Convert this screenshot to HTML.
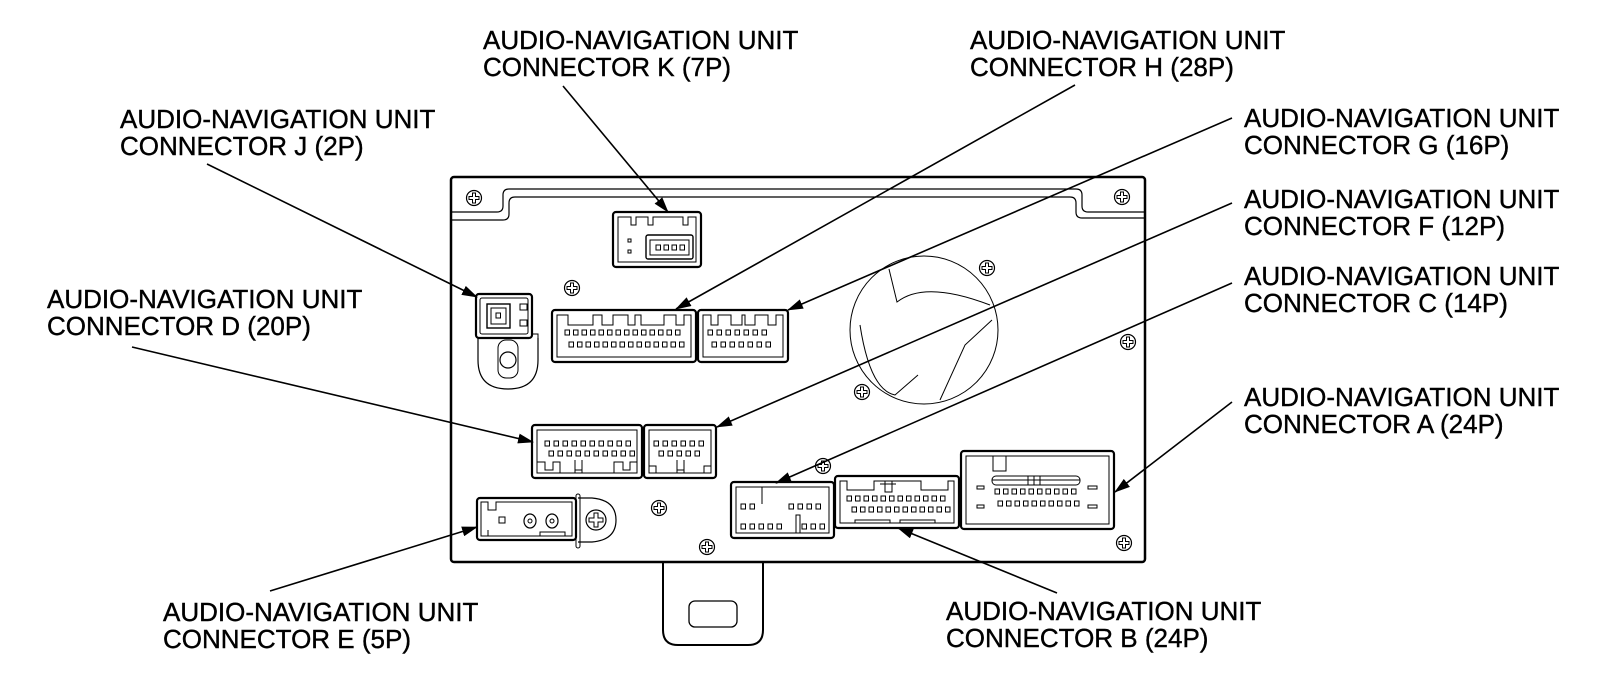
<!DOCTYPE html>
<html><head><meta charset="utf-8"><style>
html,body{margin:0;padding:0;background:#fff;width:1600px;height:674px;overflow:hidden}
svg{display:block}
text{font-family:"Liberation Sans",Arial,sans-serif;font-size:26px;fill:#000;stroke:#000;stroke-width:0.4}
</style></head><body>
<svg width="1600" height="674" viewBox="0 0 1600 674" xmlns="http://www.w3.org/2000/svg">
<defs>
<marker id="ar" markerWidth="16" markerHeight="10" refX="15" refY="5" orient="auto" markerUnits="userSpaceOnUse">
<path d="M0,0 L16,5 L0,10 Z" fill="#000"/></marker>
<g id="scr"><circle r="7.5" fill="#fff" stroke="#000" stroke-width="1.2"/><path d="M-1.5,-5 h3 v3.5 h3.5 v3 h-3.5 v3.5 h-3 v-3.5 h-3.5 v-3 h3.5 z" fill="none" stroke="#000" stroke-width="1"/></g>
<rect id="p" width="4.5" height="5" fill="none" stroke="#000" stroke-width="1"/>
</defs>

<!-- labels -->
<text x="483" y="49">AUDIO-NAVIGATION UNIT</text><text x="483" y="76">CONNECTOR K (7P)</text>
<text x="970" y="49">AUDIO-NAVIGATION UNIT</text><text x="970" y="76">CONNECTOR H (28P)</text>
<text x="120" y="128">AUDIO-NAVIGATION UNIT</text><text x="120" y="155">CONNECTOR J (2P)</text>
<text x="1244" y="127">AUDIO-NAVIGATION UNIT</text><text x="1244" y="154">CONNECTOR G (16P)</text>
<text x="1244" y="208">AUDIO-NAVIGATION UNIT</text><text x="1244" y="235">CONNECTOR F (12P)</text>
<text x="47" y="308">AUDIO-NAVIGATION UNIT</text><text x="47" y="335">CONNECTOR D (20P)</text>
<text x="1244" y="285">AUDIO-NAVIGATION UNIT</text><text x="1244" y="312">CONNECTOR C (14P)</text>
<text x="1244" y="406">AUDIO-NAVIGATION UNIT</text><text x="1244" y="433">CONNECTOR A (24P)</text>
<text x="163" y="621">AUDIO-NAVIGATION UNIT</text><text x="163" y="648">CONNECTOR E (5P)</text>
<text x="946" y="620">AUDIO-NAVIGATION UNIT</text><text x="946" y="647">CONNECTOR B (24P)</text>

<!-- tab -->
<path d="M663,562 V630 Q663,645 678,645 H748 Q763,645 763,630 V562" fill="#fff" stroke="#000" stroke-width="2"/>
<rect x="689" y="601" width="48" height="26" rx="6" fill="none" stroke="#000" stroke-width="1.3"/>

<!-- board -->
<rect x="451" y="177" width="694" height="385" rx="3" fill="#fff" stroke="#000" stroke-width="2.5"/>
<path d="M451,212 H497 Q503,212 503,206 V195 Q503,189 509,189 H1076 Q1082,189 1082,195 V206 Q1082,212 1088,212 H1145" fill="none" stroke="#000" stroke-width="1.2"/>
<path d="M451,220 H503 Q509,220 509,214 V203 Q509,197 515,197 H1070 Q1076,197 1076,203 V212 Q1076,218 1082,218 H1145" fill="none" stroke="#000" stroke-width="1.2"/>

<!-- fan -->
<g fill="none" stroke="#000" stroke-width="1">
<circle cx="924" cy="330" r="74"/>
<path d="M889,269 L897,302 Q925,280 990,305 M860,325 Q870,390 895,395 L918,375 M940,400 L965,345 L992,320"/>
</g>

<!-- screws -->
<use href="#scr" x="474" y="198"/><use href="#scr" x="1122" y="197"/><use href="#scr" x="1128" y="342"/>
<use href="#scr" x="1124" y="543"/><use href="#scr" x="572" y="288"/><use href="#scr" x="987" y="268"/>
<use href="#scr" x="862" y="392"/><use href="#scr" x="823" y="466"/><use href="#scr" x="659" y="508"/>
<use href="#scr" x="707" y="547"/>

<g fill="none" stroke="#000">
<!-- K -->
<rect x="613" y="212" width="88" height="55" rx="3" stroke-width="2.2"/>
<path d="M618,217 V262 H696 V217 H688 V225 H683 V217 H653 V225 H648 V217 H636 V225 H631 V217 Z" stroke-width="1"/>
<rect x="646" y="235" width="47" height="24" rx="2" stroke-width="1.4"/>
<rect x="650" y="240" width="39" height="15" stroke-width="1"/>
<rect x="628" y="239" width="3" height="3" stroke-width="1"/><rect x="628" y="250" width="3" height="3" stroke-width="1"/>

<!-- J -->
<path d="M478,338 V360 Q478,389 508,389 Q538,389 538,360 V338" stroke-width="1.2"/>
<path d="M532,334 H538 V345" stroke-width="1"/>
<rect x="476" y="294" width="56" height="44" rx="3" stroke-width="2.2"/>
<rect x="480" y="298" width="48" height="36" rx="2" stroke-width="1"/>
<rect x="487" y="304" width="23" height="24" stroke-width="1.4"/>
<rect x="491" y="308" width="15" height="16" stroke-width="1"/>
<rect x="520" y="304" width="7" height="6" stroke-width="1"/><rect x="520" y="320" width="7" height="6" stroke-width="1"/>
<circle cx="508" cy="360" r="8" stroke-width="1.2"/>
<rect x="498" y="340" width="20" height="38" rx="8" stroke-width="1"/>

<!-- H -->
<rect x="552" y="310" width="144" height="52" rx="3" stroke-width="2.2"/>
<path d="M557,315 V357 H691 V315 H684 V325 H676 V315 H664 V325 H641 V315 H635 V325 H628 V315 H613 V325 H602 V315 H593 V325 H568 V315 Z" stroke-width="1"/>
<!-- G -->
<rect x="698" y="310" width="90" height="52" rx="3" stroke-width="2.2"/>
<path d="M703,315 V357 H783 V315 H776 V325 H768 V315 H755 V325 H745 V315 H742 V325 H731 V315 H718 V325 H711 V315 Z" stroke-width="1"/>
<!-- D -->
<rect x="532" y="425" width="110" height="53" rx="3" stroke-width="2.2"/>
<path d="M537,430 V473 H637 V430 Z M537,462 H545 V470 H553 V462 H560 V473 M614,473 V462 H623 V470 H630 V462 H637 M575,473 V460 M582,473 V460 M575,470 H582" stroke-width="1"/>
<!-- F -->
<rect x="644" y="425" width="72" height="53" rx="3" stroke-width="2.2"/>
<path d="M649,430 V473 H711 V430 Z M649,466 H656 V473 M704,473 V466 H711 M677,473 V460 M684,473 V460 M677,470 H684" stroke-width="1"/>
<!-- C -->
<rect x="731" y="482" width="103" height="56" rx="3" stroke-width="2.2"/>
<path d="M736,487 V533 H829 V487 Z M762,487 V504 M796,533 V515 H800 V533" stroke-width="1"/>
<!-- B -->
<rect x="835" y="476" width="124" height="52" rx="3" stroke-width="2.2"/>
<path d="M840,481 V523 H954 V481 H948 V490 H921 V481 H896 V481 H874 V490 H847 V481 Z M885,481 V492 H892 V481 M880,484 H896" stroke-width="1"/>
<path d="M855,523 V520 H890 V523 M900,523 V520 H935 V523" stroke-width="1"/>
<!-- A -->
<rect x="961" y="451" width="153" height="78" rx="3" stroke-width="2.2"/>
<rect x="966" y="456" width="143" height="68" stroke-width="1"/>
<rect x="993" y="456" width="13" height="15" stroke-width="1"/>
<rect x="992" y="476" width="88" height="9" rx="4" stroke-width="1"/>
<path d="M992,480 H1080 M1028,476 V485 M1034,476 V485 M1040,476 V485" stroke-width="1"/>
<rect x="977" y="486" width="7" height="3" stroke-width="1"/><rect x="977" y="505" width="7" height="3" stroke-width="1"/>
<rect x="1088" y="486" width="9" height="3" stroke-width="1"/><rect x="1088" y="505" width="9" height="3" stroke-width="1"/>
<!-- E -->
<path d="M578,498 H592 Q616,500 616,520 Q616,540 592,542 H578" stroke-width="1.2"/>
<rect x="576" y="494" width="4" height="54" rx="2" stroke-width="1"/>
<circle cx="596" cy="520" r="10" stroke-width="1.2"/>
<path d="M594,513 h4 v5 h5 v4 h-5 v5 h-4 v-5 h-5 v-4 h5 z" stroke-width="1"/>
<rect x="477" y="498" width="99" height="42" rx="3" stroke-width="2.2"/>
<path d="M481,502 V536 H572 V502 H496 V510 H488 V502 Z M488,536 V530 M540,536 V532 H565 V536" stroke-width="1"/>
<rect x="499" y="517" width="6" height="6" stroke-width="1"/>
<ellipse cx="530" cy="521" rx="6" ry="7" stroke-width="1.2"/><circle cx="530" cy="521" r="2" stroke-width="1"/>
<ellipse cx="552" cy="521" rx="6" ry="7" stroke-width="1.2"/><circle cx="552" cy="521" r="2" stroke-width="1"/>
</g>

<!-- pins -->
<g>
<use href="#p" x="656" y="245"/><use href="#p" x="664" y="245"/><use href="#p" x="672" y="245"/><use href="#p" x="680" y="245"/>
<use href="#p" x="496" y="313"/>
</g>
<g>
<g transform="translate(565,330)"><use href="#p" x="0"/><use href="#p" x="8.5"/><use href="#p" x="17"/><use href="#p" x="25.5"/><use href="#p" x="34"/><use href="#p" x="42.5"/><use href="#p" x="51"/><use href="#p" x="59.5"/><use href="#p" x="68"/><use href="#p" x="76.5"/><use href="#p" x="85"/><use href="#p" x="93.5"/><use href="#p" x="102"/><use href="#p" x="110.5"/></g>
<g transform="translate(569,342)"><use href="#p" x="0"/><use href="#p" x="8.5"/><use href="#p" x="17"/><use href="#p" x="25.5"/><use href="#p" x="34"/><use href="#p" x="42.5"/><use href="#p" x="51"/><use href="#p" x="59.5"/><use href="#p" x="68"/><use href="#p" x="76.5"/><use href="#p" x="85"/><use href="#p" x="93.5"/><use href="#p" x="102"/><use href="#p" x="110.5"/></g>
<g transform="translate(708,330)"><use href="#p" x="0"/><use href="#p" x="9"/><use href="#p" x="18"/><use href="#p" x="27"/><use href="#p" x="36"/><use href="#p" x="45"/><use href="#p" x="54"/></g>
<g transform="translate(712,342)"><use href="#p" x="0"/><use href="#p" x="9"/><use href="#p" x="18"/><use href="#p" x="27"/><use href="#p" x="36"/><use href="#p" x="45"/><use href="#p" x="54"/></g>
<g transform="translate(545,441)"><use href="#p" x="0"/><use href="#p" x="9"/><use href="#p" x="18"/><use href="#p" x="27"/><use href="#p" x="36"/><use href="#p" x="45"/><use href="#p" x="54"/><use href="#p" x="63"/><use href="#p" x="72"/><use href="#p" x="81"/></g>
<g transform="translate(549,451)"><use href="#p" x="0"/><use href="#p" x="9"/><use href="#p" x="18"/><use href="#p" x="27"/><use href="#p" x="36"/><use href="#p" x="45"/><use href="#p" x="54"/><use href="#p" x="63"/><use href="#p" x="72"/><use href="#p" x="81"/></g>
<g transform="translate(654,441)"><use href="#p" x="0"/><use href="#p" x="9"/><use href="#p" x="18"/><use href="#p" x="27"/><use href="#p" x="36"/><use href="#p" x="45"/></g>
<g transform="translate(659,451)"><use href="#p" x="0"/><use href="#p" x="9"/><use href="#p" x="18"/><use href="#p" x="27"/><use href="#p" x="36"/></g>
<g transform="translate(741,504)"><use href="#p" x="0"/><use href="#p" x="9"/><use href="#p" x="48"/><use href="#p" x="57"/><use href="#p" x="66"/><use href="#p" x="75"/></g>
<g transform="translate(741,524)"><use href="#p" x="0"/><use href="#p" x="9"/><use href="#p" x="18"/><use href="#p" x="27"/><use href="#p" x="36"/><use href="#p" x="61"/><use href="#p" x="70"/><use href="#p" x="79"/></g>
<g transform="translate(847,496)"><use href="#p" x="0"/><use href="#p" x="8.5"/><use href="#p" x="17"/><use href="#p" x="25.5"/><use href="#p" x="34"/><use href="#p" x="42.5"/><use href="#p" x="51"/><use href="#p" x="59.5"/><use href="#p" x="68"/><use href="#p" x="76.5"/><use href="#p" x="85"/><use href="#p" x="93.5"/></g>
<g transform="translate(852,507)"><use href="#p" x="0"/><use href="#p" x="8.5"/><use href="#p" x="17"/><use href="#p" x="25.5"/><use href="#p" x="34"/><use href="#p" x="42.5"/><use href="#p" x="51"/><use href="#p" x="59.5"/><use href="#p" x="68"/><use href="#p" x="76.5"/><use href="#p" x="85"/><use href="#p" x="93.5"/></g>
<g transform="translate(995,489)"><use href="#p" x="0"/><use href="#p" x="8.5"/><use href="#p" x="17"/><use href="#p" x="25.5"/><use href="#p" x="34"/><use href="#p" x="42.5"/><use href="#p" x="51"/><use href="#p" x="59.5"/><use href="#p" x="68"/><use href="#p" x="76.5"/></g>
<g transform="translate(998,501)"><use href="#p" x="0"/><use href="#p" x="8.5"/><use href="#p" x="17"/><use href="#p" x="25.5"/><use href="#p" x="34"/><use href="#p" x="42.5"/><use href="#p" x="51"/><use href="#p" x="59.5"/><use href="#p" x="68"/><use href="#p" x="76.5"/></g>
</g>

<!-- leader arrows -->
<g stroke="#000" stroke-width="1.6" fill="none" marker-end="url(#ar)">
<line x1="563" y1="86" x2="668" y2="212"/>
<line x1="1075" y1="85" x2="676" y2="309"/>
<line x1="207" y1="164" x2="477" y2="297"/>
<line x1="1232" y1="118" x2="788" y2="310"/>
<line x1="1232" y1="203" x2="717" y2="427"/>
<line x1="132" y1="347" x2="533" y2="442"/>
<line x1="1232" y1="283" x2="776" y2="483"/>
<line x1="1232" y1="402" x2="1115" y2="492"/>
<line x1="270" y1="591" x2="477" y2="527"/>
<line x1="1057" y1="593" x2="898" y2="528"/>
</g>
</svg>
</body></html>
